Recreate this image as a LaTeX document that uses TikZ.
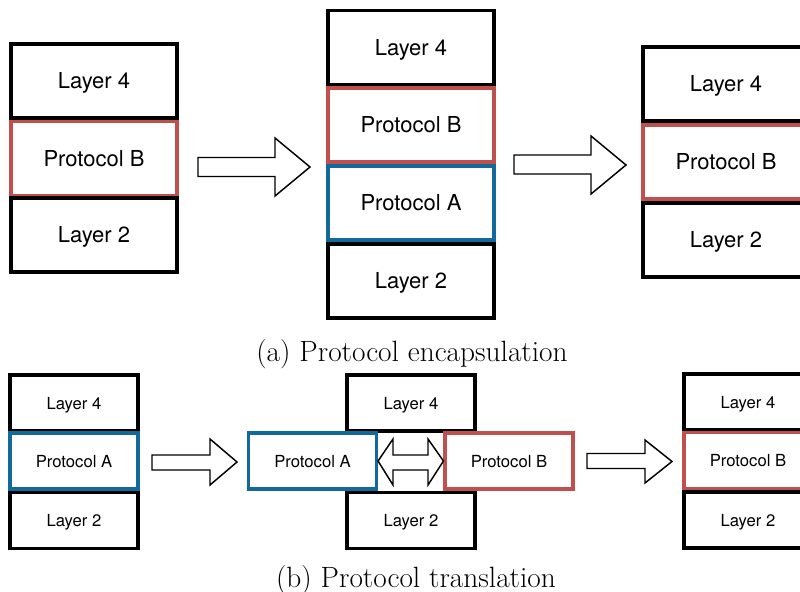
\documentclass[tikz,border=0pt]{standalone}
\usepackage{fontspec}
\newfontfamily\labelfont{TeX Gyre Heros}
\begin{document}
\begin{tikzpicture}[x=0.75pt,y=-0.75pt,
  layerbox/.style={draw=black,line width=2.3pt,fill=white,inner sep=0pt,
    minimum width=124.5pt,minimum height=55.5pt,text height=11.9pt,text depth=0pt,
    font=\labelfont\fontsize{16.5}{18}\selectfont},
  smallbox/.style={layerbox,minimum width=96pt,minimum height=42pt,text height=9pt,
    font=\labelfont\fontsize{12.5}{14}\selectfont},
  protoA/.style={draw=blueA},
  protoB/.style={draw=redB},
  blockarrow/.style={draw=black,line width=1.1pt,fill=white,line join=miter},
  caption/.style={font=\fontsize{22}{26}\selectfont,anchor=base}]
\definecolor{redB}{HTML}{C0504D}
\definecolor{blueA}{HTML}{12699B}
\useasboundingbox (0,0) rectangle (800,592);
\begin{scope}
\clip (0,0) rectangle (800,592);

% ---- (a) encapsulation ----
\node[layerbox] (a1l4) at (94,81) {Layer 4};
\node[layerbox,protoB] (a1pb) at (94,158.5) {Protocol B};
\node[layerbox] (a1l2) at (94,235) {Layer 2};

\node[layerbox] (a2l4) at (411,47.5) {Layer 4};
\node[layerbox,protoB] (a2pb) at (411,125) {Protocol B};
\node[layerbox,protoA] (a2pa) at (411,203) {Protocol A};
\node[layerbox] (a2l2) at (411,281) {Layer 2};

\node[layerbox] (a3l4) at (726,84) {Layer 4};
\node[layerbox,protoB] (a3pb) at (726,162) {Protocol B};
\node[layerbox] (a3l2) at (726,240) {Layer 2};

\draw[blockarrow] (198,157.5) -- (275,157.5) -- (275,138) -- (310,167)
  -- (275,196) -- (275,176.5) -- (198,176.5) -- cycle;
\draw[blockarrow] (514,155) -- (591,155) -- (591,136) -- (626,165)
  -- (591,194) -- (591,174) -- (514,174) -- cycle;

\node[caption] (capa) at (412,361) {(a) Protocol encapsulation};

% ---- (b) translation ----
\node[smallbox] (b1l4) at (74,403) {Layer 4};
\node[smallbox,protoA] (b1pa) at (74,461) {Protocol A};
\node[smallbox] (b1l2) at (74,520.5) {Layer 2};

\node[smallbox] (b2l4) at (411,403) {Layer 4};
\node[smallbox] (b2l2) at (411,520.5) {Layer 2};
\node[smallbox,protoA] (b2pa) at (312.5,461) {Protocol A};
\node[smallbox,protoB] (b2pb) at (509,461) {Protocol B};

\node[smallbox] (b3l4) at (748,402) {Layer 4};
\node[smallbox,protoB] (b3pb) at (748,460.5) {Protocol B};
\node[smallbox] (b3l2) at (748,520) {Layer 2};

\draw[blockarrow] (152,455) -- (210,455) -- (210,439) -- (237,462)
  -- (210,485) -- (210,470) -- (152,470) -- cycle;
\draw[blockarrow] (b2pa.east) -- (393,439) -- (393,455) -- (428,455) -- (428,439)
  -- (b2pb.west) -- (428,485) -- (428,470) -- (393,470) -- (393,485) -- cycle;
\draw[blockarrow] (587,453.5) -- (645,453.5) -- (645,440) -- (672,461.5)
  -- (645,483) -- (645,468.5) -- (587,468.5) -- cycle;

\node[caption] (capb) at (416,587) {(b) Protocol translation};
\end{scope}
\end{tikzpicture}
\end{document}
